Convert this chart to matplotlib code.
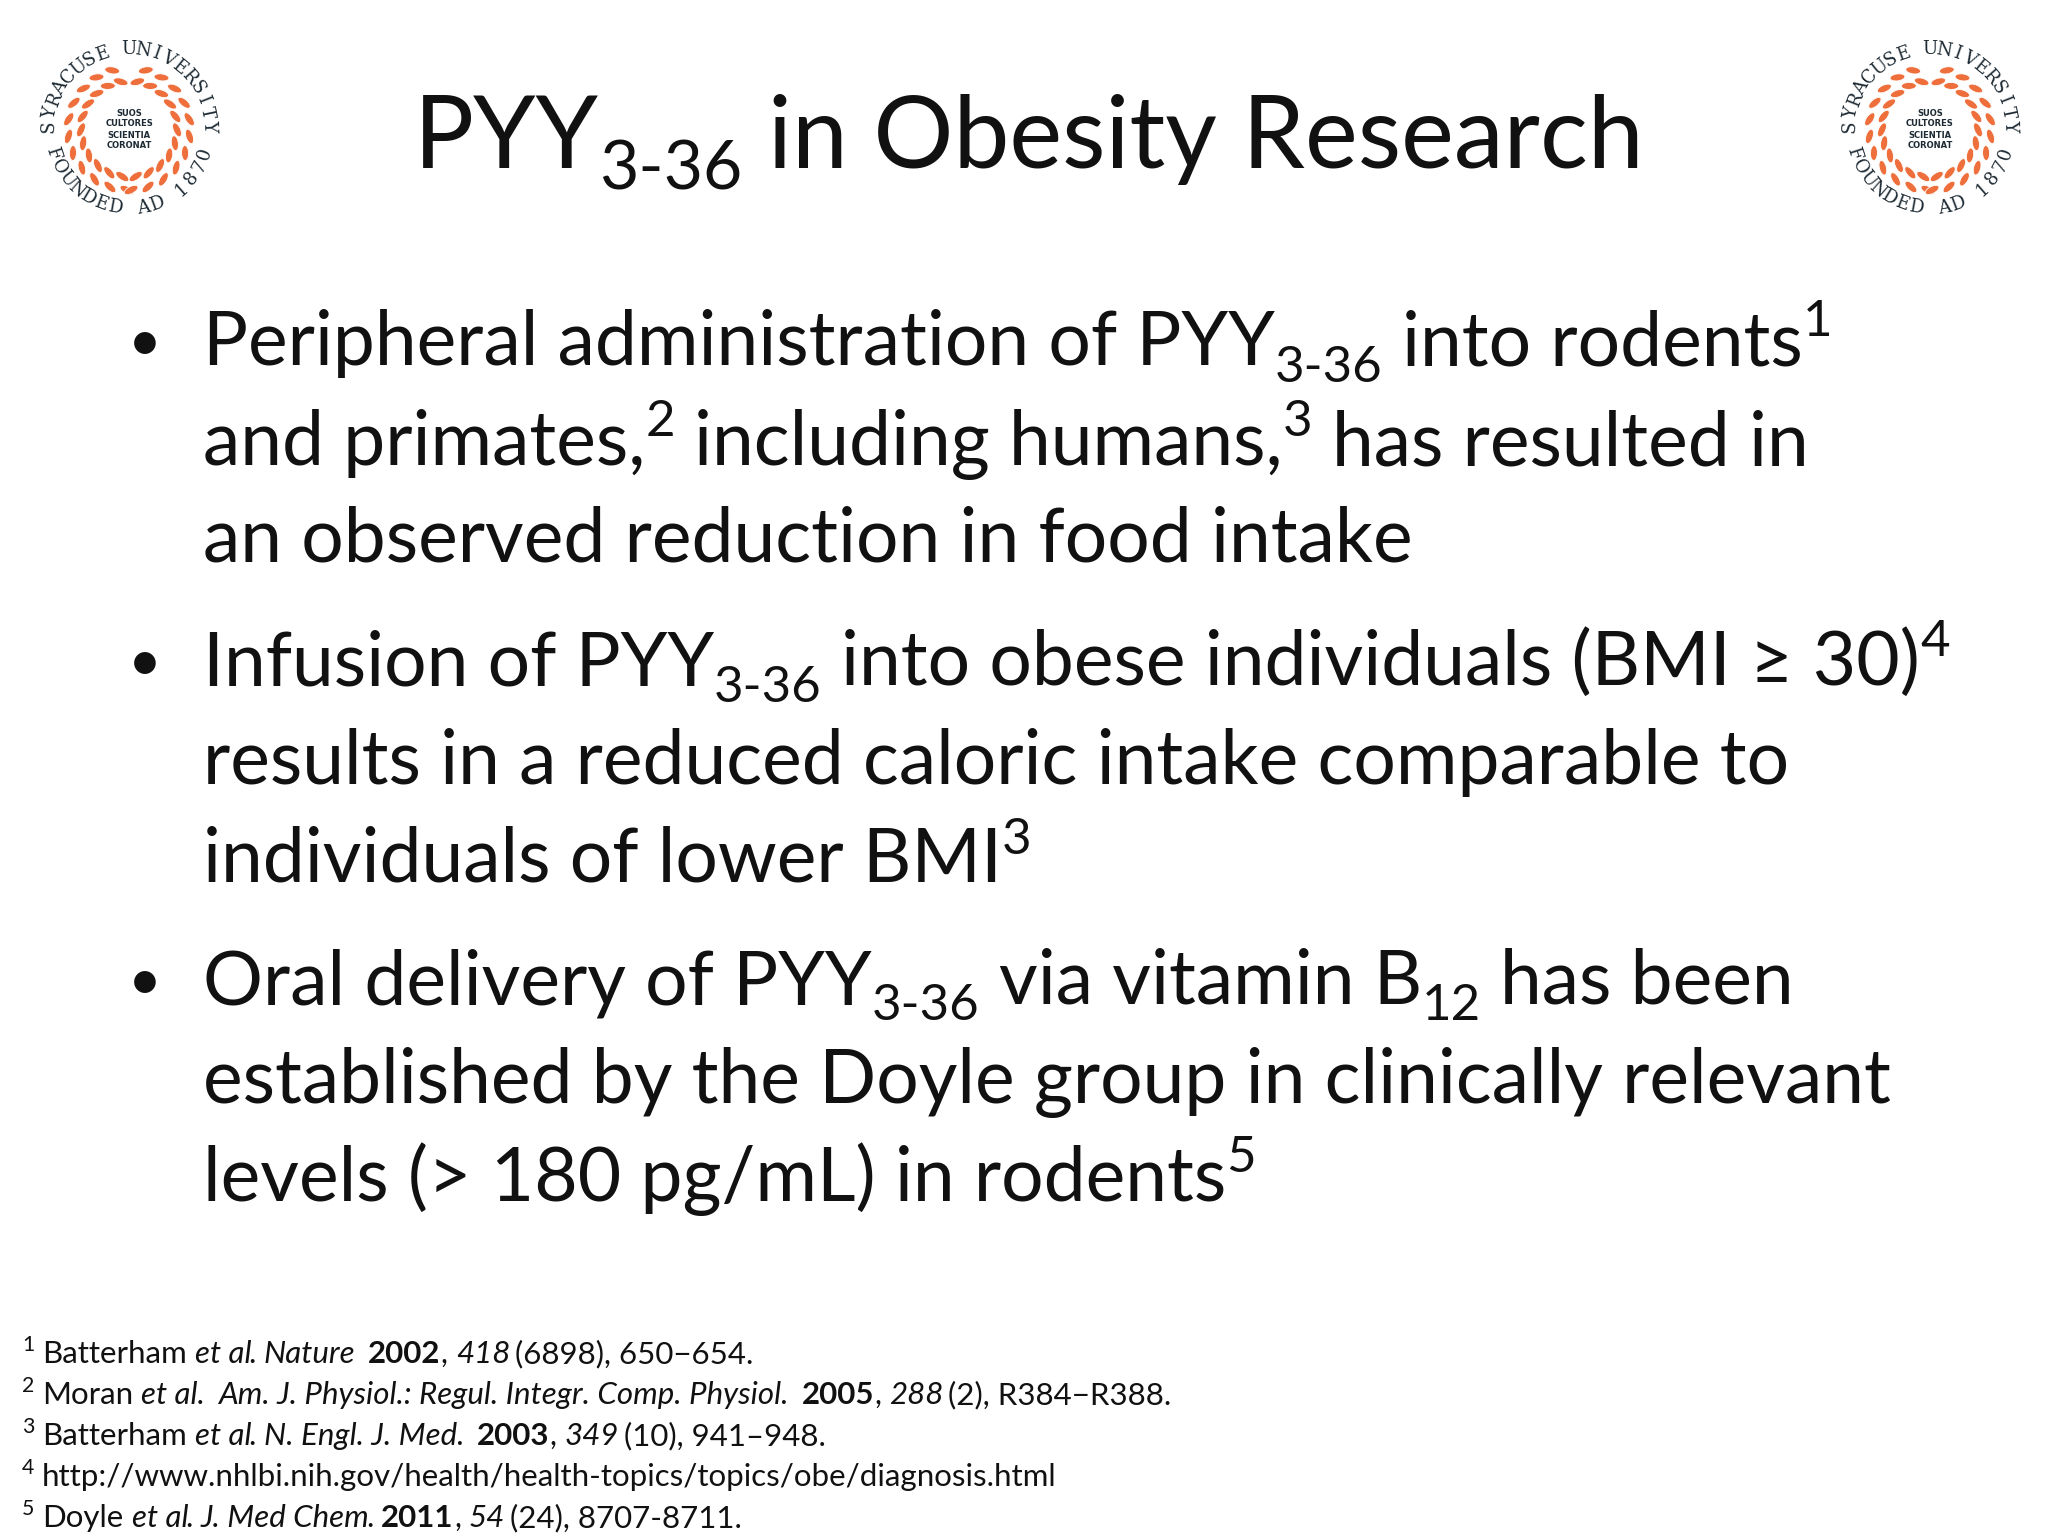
import numpy as np
import matplotlib
matplotlib.use("Agg")
import matplotlib.pyplot as plt
from matplotlib.patches import Ellipse

FONT = "Lato"
SERIF = "DejaVu Serif"
INK = "#111111"
ORANGE = "#EE6F3B"
NAVY = "#1d2a33"

title_segs = [("PYY", "n"), ("3-36", "sub"), (" in Obesity Research", "n")]

bullets = [
    [[("Peripheral administration of PYY", "n"), ("3-36", "sub"), (" into rodents", "n"), ("1", "sup")],
     [("and primates,", "n"), ("2", "sup"), (" including humans,", "n"), ("3", "sup"), (" has resulted in", "n")],
     [("an observed reduction in food intake", "n")]],
    [[("Infusion of PYY", "n"), ("3-36", "sub"), (" into obese individuals (BMI \u2265 30)", "n"), ("4", "sup")],
     [("results in a reduced caloric intake comparable to", "n")],
     [("individuals of lower BMI", "n"), ("3", "sup")]],
    [[("Oral delivery of PYY", "n"), ("3-36", "sub"), (" via vitamin B", "n"), ("12", "sub"), (" has been", "n")],
     [("established by the Doyle group in clinically relevant", "n")],
     [("levels (> 180 pg/mL) in rodents", "n"), ("5", "sup")]],
]

footnotes = [
    [("1", "sup"), (" Batterham ", "n"), ("et al", "i"), (". ", "n"), ("Nature", "i"), (" ", "n"), ("2002", "b"), (", ", "n"), ("418", "i"), (" (6898), 650\u2212654.", "n")],
    [("2", "sup"), (" Moran ", "n"), ("et al.", "i"), (" ", "n"), ("Am. J. Physiol.: Regul. Integr. Comp. Physiol.", "i"), (" ", "n"), ("2005", "b"), (", ", "n"), ("288", "i"), (" (2), R384\u2212R388.", "n")],
    [("3", "sup"), (" Batterham ", "n"), ("et al", "i"), (". ", "n"), ("N. Engl. J. Med.", "i"), (" ", "n"), ("2003", "b"), (", ", "n"), ("349", "i"), (" (10), 941\u2013948.", "n")],
    [("4", "sup"), (" http://www.nhlbi.nih.gov/health/health-topics/topics/obe/diagnosis.html", "n")],
    [("5", "sup"), (" Doyle ", "n"), ("et al", "i"), (". ", "n"), ("J. Med Chem", "i"), (". ", "n"), ("2011", "b"), (", ", "n"), ("54", "i"), (" (24), 8707-8711.", "n")],
]

fig = plt.figure(figsize=(20.48, 15.36), dpi=100)
ax = fig.add_axes([0, 0, 1, 1])
ax.set_xlim(0, 2048)
ax.set_ylim(1536, 0)
ax.axis("off")
fig.canvas.draw()
R = fig.canvas.get_renderer()

def width(s, size, style="normal", weight="normal", family=FONT):
    t = ax.text(0, 0, s, fontsize=size, family=family, style=style, weight=weight)
    w = t.get_window_extent(R).width
    t.remove()
    return w

def rich(x, y, segs, size, family=FONT, color=INK):
    cx = x
    pxs = size * 100 / 72
    sw = width("n n", size, family=family) - width("nn", size, family=family)
    for s, k in segs:
        fs, dy, st, wt = size, 0, "normal", "normal"
        if k == "sub":
            fs, dy = size * 0.68, pxs * 0.22
        elif k == "sup":
            fs, dy = size * 0.68, -pxs * 0.38
        elif k == "i":
            st = "italic"
        elif k == "b":
            wt = "bold"
        lead = len(s) - len(s.lstrip(" "))
        trail = len(s) - len(s.rstrip(" "))
        core = s.strip(" ")
        cx += lead * sw
        if core:
            t = ax.text(cx, y + dy, core, fontsize=fs, family=family, style=st,
                        weight=wt, color=color, ha="left", va="baseline")
            w = t.get_window_extent(R).width
            if st == "italic":
                w -= 0.1 * pxs
            cx += w
        cx += trail * sw
    return cx

# title
rich(414, 168, title_segs, 72)

# bullets
base = [[365, 465, 562], [685, 784, 882], [1004, 1103, 1201]]
for b, ys in zip(bullets, base):
    ax.text(128, ys[0] - 4, "\u2022", fontsize=42, family=FONT, color=INK, ha="left", va="baseline")
    for line, y in zip(b, ys):
        rich(203, y, line, 54)

# footnotes
for i, fn in enumerate(footnotes):
    rich(22, 1363 + i * 41, fn, 22.5)

def seal(cx, cy):
    def arc(text, a0, a1, r, top):
        n = len(text)
        angs = np.linspace(a0, a1, n)
        for ch, a in zip(text, angs):
            rad = np.deg2rad(a)
            x = cx + r * np.cos(rad)
            y = cy - r * np.sin(rad)
            rot = a - 90 if top else a + 90
            ax.text(x, y, ch, fontsize=13, family=SERIF, color=NAVY,
                    rotation=rot, ha="center", va="center", rotation_mode="anchor")
    arc("SYRACUSE UNIVERSITY", 178, 2, 80, True)
    arc("FOUNDED AD 1870", 198, 342, 80, False)
    for side in (1, -1):
        for a in np.linspace(100, 262, 11):
            for dr, da in ((-6, 0), (7, 6)):
                ang = a + da
                ang_s = ang if side == 1 else 180 - ang
                rad = np.deg2rad(ang_s)
                r = 54 + dr
                x = cx + r * np.cos(rad)
                y = cy - r * np.sin(rad)
                e = Ellipse((x, y), 15, 7, angle=-(ang_s - 90) + (25 if side == 1 else -25),
                            facecolor=ORANGE, edgecolor="white", lw=0.6)
                ax.add_patch(e)
    for j, w in enumerate(["SUOS", "CULTORES", "SCIENTIA", "CORONAT"]):
        ax.text(cx, cy - 16 + j * 11, w, fontsize=6, family="DejaVu Sans", weight="bold",
                color=NAVY, ha="center", va="center")

seal(129, 129)
seal(1930, 129)

fig.savefig("out.png", dpi=100, facecolor="white")
